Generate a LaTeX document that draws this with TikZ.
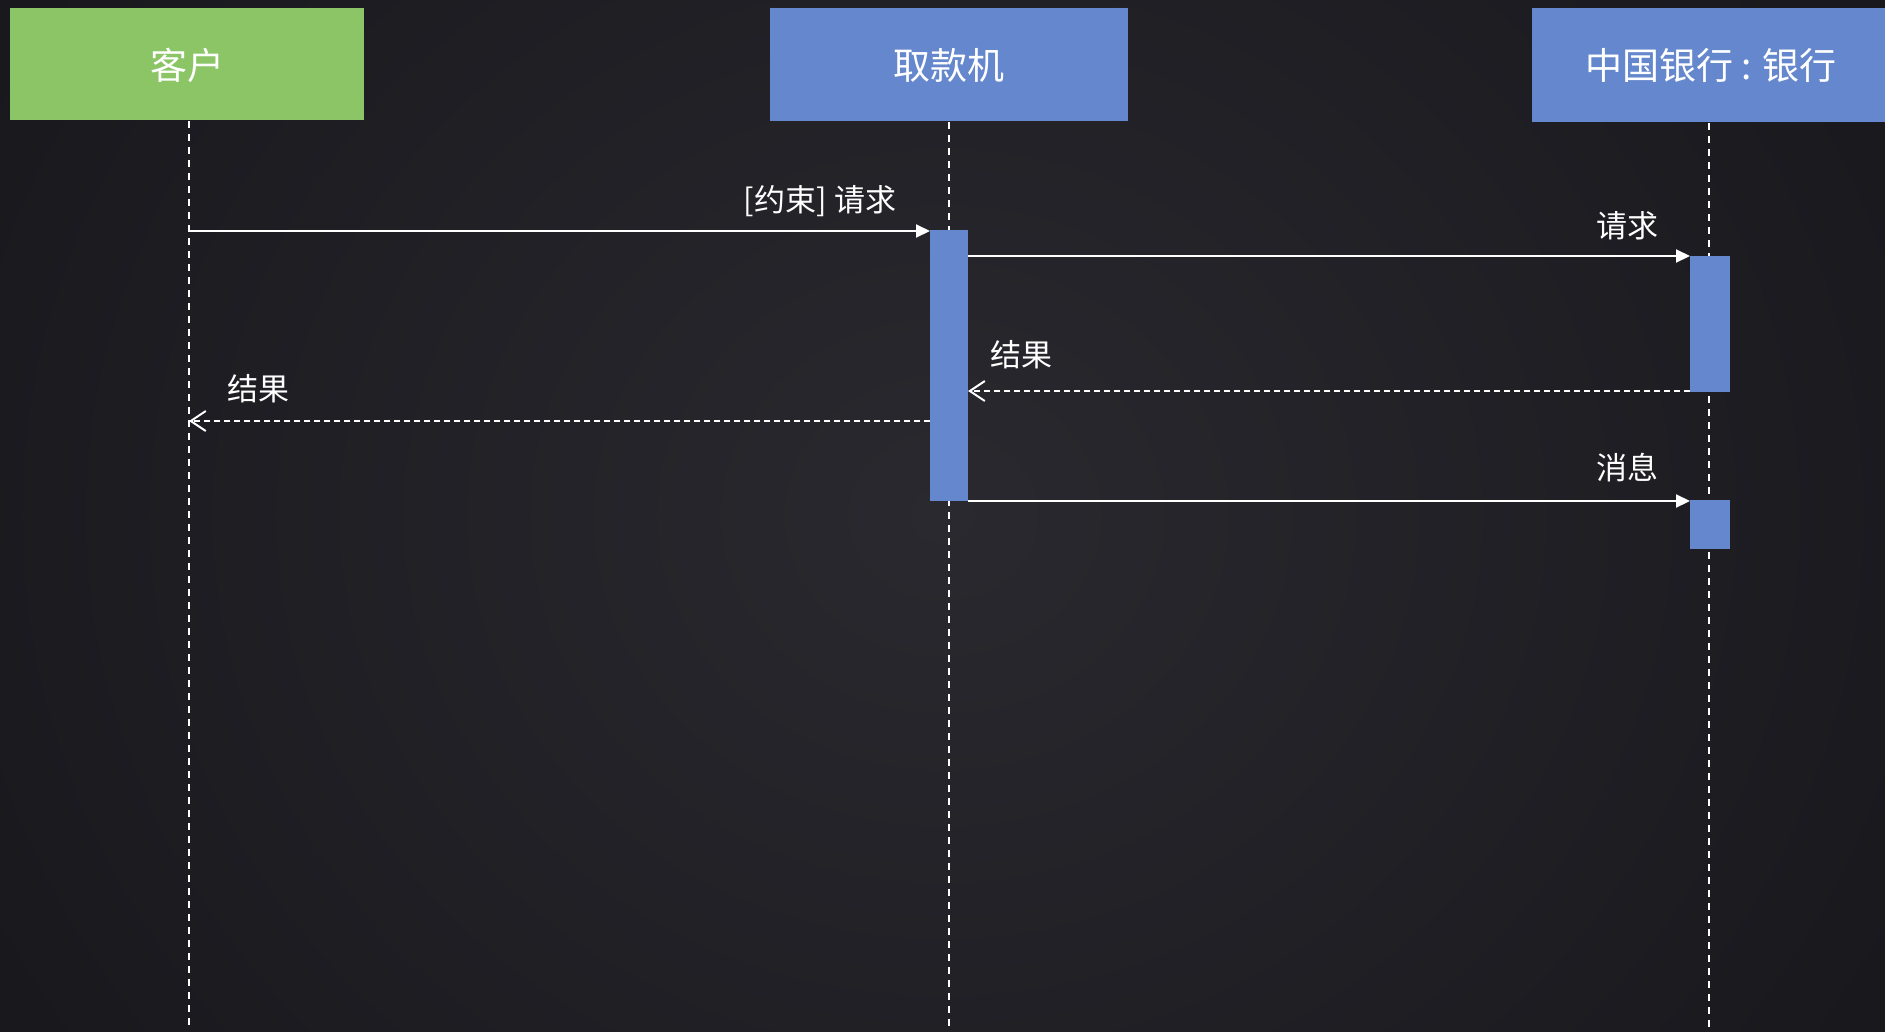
\documentclass[tikz,border=0pt]{standalone}
\usepackage{fontspec}
\setmainfont{Noto Sans CJK SC}
\usetikzlibrary{arrows.meta}
\definecolor{bgdark}{HTML}{18171C}
\definecolor{bglight}{HTML}{2A292F}
\definecolor{hgreen}{HTML}{8BC565}
\definecolor{hblue}{HTML}{6587CD}
\tikzset{
  x=1pt, y=-1pt,
  header/.style={text=white, font=\fontsize{37}{42}\selectfont, inner sep=0pt},
  lifeline/.style={draw=white, line width=1.9pt, dash pattern=on 7pt off 6pt},
  actbar/.style={fill=hblue, draw=none},
  msg/.style={draw=white, line width=2pt, -{Triangle[length=14pt,width=13pt]}},
  ret/.style={draw=white, line width=2pt, dash pattern=on 6pt off 4pt, -{Straight Barb[length=15pt,width=20pt,line width=2pt]}},
  lbl/.style={text=white, font=\fontsize{31}{35}\selectfont, inner sep=0pt}
}
\begin{document}
\begin{tikzpicture}
\useasboundingbox (0,0) rectangle (1885,1031);
\shade[inner color=bglight, outer color=bgdark] (-200,-500) rectangle (2085,1531);
% headers
\fill[hgreen] (10,8) rectangle (364,120);
\node[header] (h1) at (187,65) {客户};
\fill[hblue] (770,8) rectangle (1128,121);
\node[header] (h2) at (949,65) {取款机};
\fill[hblue] (1532,8) rectangle (1885,122);
\node[header] (h3) at (1711,65) {中国银行 : 银行};
% lifelines
\coordinate (l1t) at (189,121);
\coordinate (l1b) at (189,1027);
\coordinate (l2t) at (949,122);
\coordinate (l2b) at (949,1027);
\coordinate (l3t) at (1709,123);
\coordinate (l3b) at (1709,1027);
\draw[lifeline] (l1t) -- (l1b);
\draw[lifeline] (l2t) -- (l2b);
\draw[lifeline] (l3t) -- (l3b);
% activations
\fill[actbar] (930,230) rectangle (968,501);
\fill[actbar] (1690,256) rectangle (1730,392);
\fill[actbar] (1690,500) rectangle (1730,549);
% anchor coordinates
\coordinate (a1s) at (189,231);
\coordinate (a1e) at (930,231);
\coordinate (a2s) at (968,256);
\coordinate (a2e) at (1690,256);
\coordinate (r1s) at (1690,391);
\coordinate (r1e) at (968,391);
\coordinate (r2s) at (930,421);
\coordinate (r2e) at (189,421);
\coordinate (m3s) at (968,501);
\coordinate (m3e) at (1690,501);
\draw[msg] (a1s) -- (a1e);
\draw[msg] (a2s) -- (a2e);
\draw[ret] (r1s) -- (r1e);
\draw[ret] (r2s) -- (r2e);
\draw[msg] (m3s) -- (m3e);
% labels
\node[lbl, anchor=east] (t1) at (897,201) {[约束]\hspace{8pt}请求};
\node[lbl] (t2) at (1627,226) {请求};
\node[lbl] (t3) at (1021,355) {结果};
\node[lbl] (t4) at (258,389) {结果};
\node[lbl] (t5) at (1627,468) {消息};
\end{tikzpicture}
\end{document}
